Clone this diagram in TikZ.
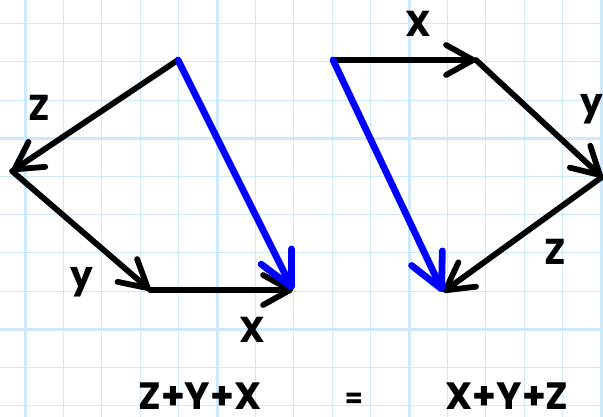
\documentclass[tikz,border=0pt]{standalone}
\usepackage{fontspec}
\setmainfont{Poppins}
\usetikzlibrary{arrows.meta}
\definecolor{gridblue}{RGB}{205,233,252}
\definecolor{vecblue}{RGB}{0,0,255}
\tikzset{
  gridthin/.style={draw=gridblue, line width=1.1pt},
  gridthick/.style={draw=gridblue, line width=3pt},
  vec/.style={draw=black, line width=5.8pt, line cap=round, line join=round,
    -{Straight Barb[length=27pt, width=30pt, round]}},
  sumvec/.style={draw=vecblue, line width=6.8pt, line cap=round, line join=round,
    -{Straight Barb[length=34pt, width=34pt, round]}},
  lbl/.style={inner sep=0pt, font=\fontsize{36}{36}\selectfont\bfseries},
  eqn/.style={inner sep=0pt, font=\fontsize{38}{38}\selectfont\bfseries},
}
\begin{document}
\begin{tikzpicture}[x=1pt, y=-1pt]
\useasboundingbox (0,0) rectangle (603,417);
\clip (0,0) rectangle (603,417);
\fill[white] (0,0) rectangle (603,417);
% grid
\foreach \k in {0,...,15} \draw[gridthin] ({25+38.4*\k},0) -- ({25+38.4*\k},417);
\foreach \k in {0,...,10} \draw[gridthin] (0,{23.7+38.2*\k}) -- (603,{23.7+38.2*\k});
\foreach \xx in {25,217,409,601} \draw[gridthick] (\xx,0) -- (\xx,417);
\foreach \yy in {138.3,329.3} \draw[gridthick] (0,\yy) -- (603,\yy);
% left figure
\coordinate (A) at (178,60);
\coordinate (A1) at (12,171);
\coordinate (A2) at (150,290);
\coordinate (A3) at (293,290);
\draw[vec] (A) -- (A1);
\draw[vec] (A1) -- (A2);
\draw[vec] (A2) -- (A3);
\draw[sumvec] (A) -- (A3);
\node[lbl] (lz) at (39.5,108) {Z};
\node[lbl] (ly) at (82,282) {y};
\node[lbl] (lx) at (252.5,330) {X};
% right figure
\coordinate (B) at (333,60);
\coordinate (B1) at (476,60);
\coordinate (B2) at (602,177);
\coordinate (B3) at (443,292);
\draw[vec] (B) -- (B1);
\draw[vec] (B1) -- (B2);
\draw[vec] (B2) -- (B3);
\draw[sumvec] (B) -- (B3);
\node[lbl] (rx) at (418.5,23.5) {X};
\node[lbl] (ry) at (592,109) {y};
\node[lbl] (rz) at (555.5,251.5) {Z};
% equation
\node[eqn] (left) at (200,396.5) {Z+Y+X};
\node[inner sep=0pt, font=\fontsize{26}{26}\selectfont\bfseries] (eq) at (354,400) {=};
\node[eqn] (right) at (507,396.5) {X+Y+Z};
\end{tikzpicture}
\end{document}
